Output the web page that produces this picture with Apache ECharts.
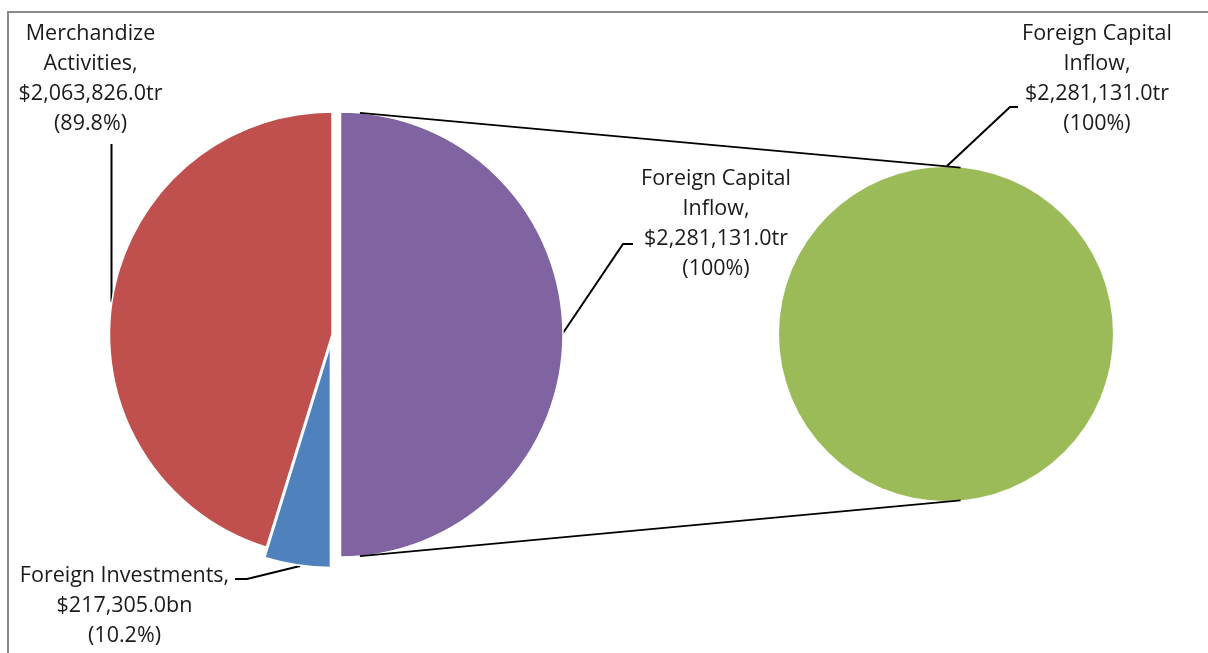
<!DOCTYPE html>
<html>
<head>
<meta charset="utf-8">
<script src="https://cdn.jsdelivr.net/npm/echarts@6/dist/echarts.min.js"></script>
<style>
  html, body { margin: 0; padding: 0; background: #ffffff; }
  #chart { width: 1208px; height: 653px; }
</style>
</head>
<body>
<div id="chart"></div>
<script>
// Primary pie: the "other" slice (Foreign Capital Inflow) plus its two components
const categories = ['Foreign Capital Inflow', 'Foreign Investments', 'Merchandize Activities'];
const values = [2281131.0, 217305.0, 2063826.0];
const units = ['tr', 'bn', 'tr'];
const shares = ['100%', '10.2%', '89.8%'];
const nameLines = [['Foreign Capital', 'Inflow,'], ['Foreign Investments,'], ['Merchandize', 'Activities,']];

// Secondary pie: breakdown of the "other" slice
const secondaryCategories = ['Foreign Capital Inflow'];
const secondaryValues = [2281131.0];
const secondaryUnits = ['tr'];
const secondaryShares = ['100%'];
const secondaryNameLines = [['Foreign Capital', 'Inflow,']];

const sliceColors = ['#8064A2', '#4F81BD', '#C0504D'];
const secondaryColor = '#9BBB59';
const FONT = '"Open Sans", "Noto Sans", sans-serif';
const TEXT = '#1a1a1a';

const leftPie = { cx: 332, cy: 334.5, r: 222.5 };
const explode = [8.5, 10.5, 0];          // pull-out distance per slice
const rightPie = { cx: 946, cy: 334, r: 167 };

const fmt = v => v.toLocaleString('en-US', { minimumFractionDigits: 1, maximumFractionDigits: 1 });
const labelText = (lines, v, u, s) => lines.join('\n') + '\n$' + fmt(v) + u + '\n(' + s + ')';

const hidden = {
  itemStyle: { color: 'rgba(0,0,0,0)', borderWidth: 0 },
  label: { show: false },
  labelLine: { show: false }
};

// label anchor and guide line per slice
const primaryLabelPlace = [
  { x: 716, y: 224, pts: [[563, 333], [623, 244], [633, 244]] },
  { x: 124.5, y: 606, pts: [[300, 566], [247, 579], [235, 579]] },
  { x: 90.5, y: 79, pts: [[111.5, 302], [111.5, 144], [111.5, 144]] }
];
const secondaryLabelPlace = [
  { x: 1097, y: 79, pts: [[947, 166], [1010, 107], [1018, 107]] }
];

const baseLabel = {
  show: true,
  position: 'outside',
  fontFamily: FONT,
  fontSize: 21.5,
  lineHeight: 30,
  color: TEXT,
  align: 'center'
};
const baseLine = { show: true, lineStyle: { color: '#000', width: 2 }, length: 10, length2: 10 };

const placeLabel = (table, idx) => () => {
  const p = table[idx];
  return { x: p.x, y: p.y, align: 'center', verticalAlign: 'middle', labelLinePoints: p.pts };
};

// each slice of the primary pie is its own series so it can be pulled out on its own
const total = values.reduce((a, b) => a + b, 0);
let before = 0;
const primarySeries = categories.map((name, k) => {
  const mid = (before + values[k] / 2) / total * 2 * Math.PI;
  before += values[k];
  const dx = Math.sin(mid) * explode[k];
  const dy = -Math.cos(mid) * explode[k];
  return {
    type: 'pie',
    name,
    center: [leftPie.cx + dx, leftPie.cy + dy],
    radius: [0, leftPie.r],
    startAngle: 90,
    clockwise: true,
    avoidLabelOverlap: false,
    emphasis: { disabled: true },
    labelLayout: placeLabel(primaryLabelPlace, k),
    data: categories.map((n, i) => {
      if (i !== k) return Object.assign({ name: n, value: values[i] }, hidden);
      return {
        name: n,
        value: values[i],
        itemStyle: { color: sliceColors[i], borderColor: '#fff', borderWidth: 1.5 },
        label: Object.assign({}, baseLabel, { formatter: labelText(nameLines[i], values[i], units[i], shares[i]) }),
        labelLine: baseLine
      };
    })
  };
});

const secondarySeries = {
  type: 'pie',
  name: 'breakdown',
  center: [rightPie.cx, rightPie.cy],
  radius: [0, rightPie.r],
  startAngle: 90,
  clockwise: true,
  avoidLabelOverlap: false,
  emphasis: { disabled: true },
  labelLayout: placeLabel(secondaryLabelPlace, 0),
  data: secondaryCategories.map((name, i) => ({
    name,
    value: secondaryValues[i],
    itemStyle: { color: secondaryColor },
    label: Object.assign({}, baseLabel, { formatter: labelText(secondaryNameLines[i], secondaryValues[i], secondaryUnits[i], secondaryShares[i]) }),
    labelLine: baseLine
  }))
};

// connector lines between the two pies, 5 degrees off the vertical
const ang = 5 * Math.PI / 180;
const oc = { x: leftPie.cx + explode[0], y: leftPie.cy };
const topLine = [oc.x + leftPie.r * Math.sin(ang), oc.y - leftPie.r * Math.cos(ang),
                 rightPie.cx + rightPie.r * Math.sin(ang), rightPie.cy - rightPie.r * Math.cos(ang)];
const botLine = [oc.x + leftPie.r * Math.sin(ang), oc.y + leftPie.r * Math.cos(ang),
                 rightPie.cx + rightPie.r * Math.sin(ang), rightPie.cy + rightPie.r * Math.cos(ang)];

const chart = echarts.init(document.getElementById('chart'), null, { renderer: 'canvas' });
chart.setOption({
  backgroundColor: '#ffffff',
  animation: false,
  textStyle: { fontFamily: FONT },
  series: primarySeries.concat([secondarySeries]),
  graphic: [
    {
      type: 'rect',
      shape: { x: 8, y: 12, width: 1220, height: 680 },
      style: { fill: 'none', stroke: '#8a8a8a', lineWidth: 2 },
      z: 0,
      silent: true
    },
    {
      type: 'line',
      shape: { x1: topLine[0], y1: topLine[1], x2: topLine[2], y2: topLine[3] },
      style: { stroke: '#000', lineWidth: 1.8 },
      z: 10,
      silent: true
    },
    {
      type: 'line',
      shape: { x1: botLine[0], y1: botLine[1], x2: botLine[2], y2: botLine[3] },
      style: { stroke: '#000', lineWidth: 1.8 },
      z: 10,
      silent: true
    }
  ]
});
</script>
</body>
</html>
